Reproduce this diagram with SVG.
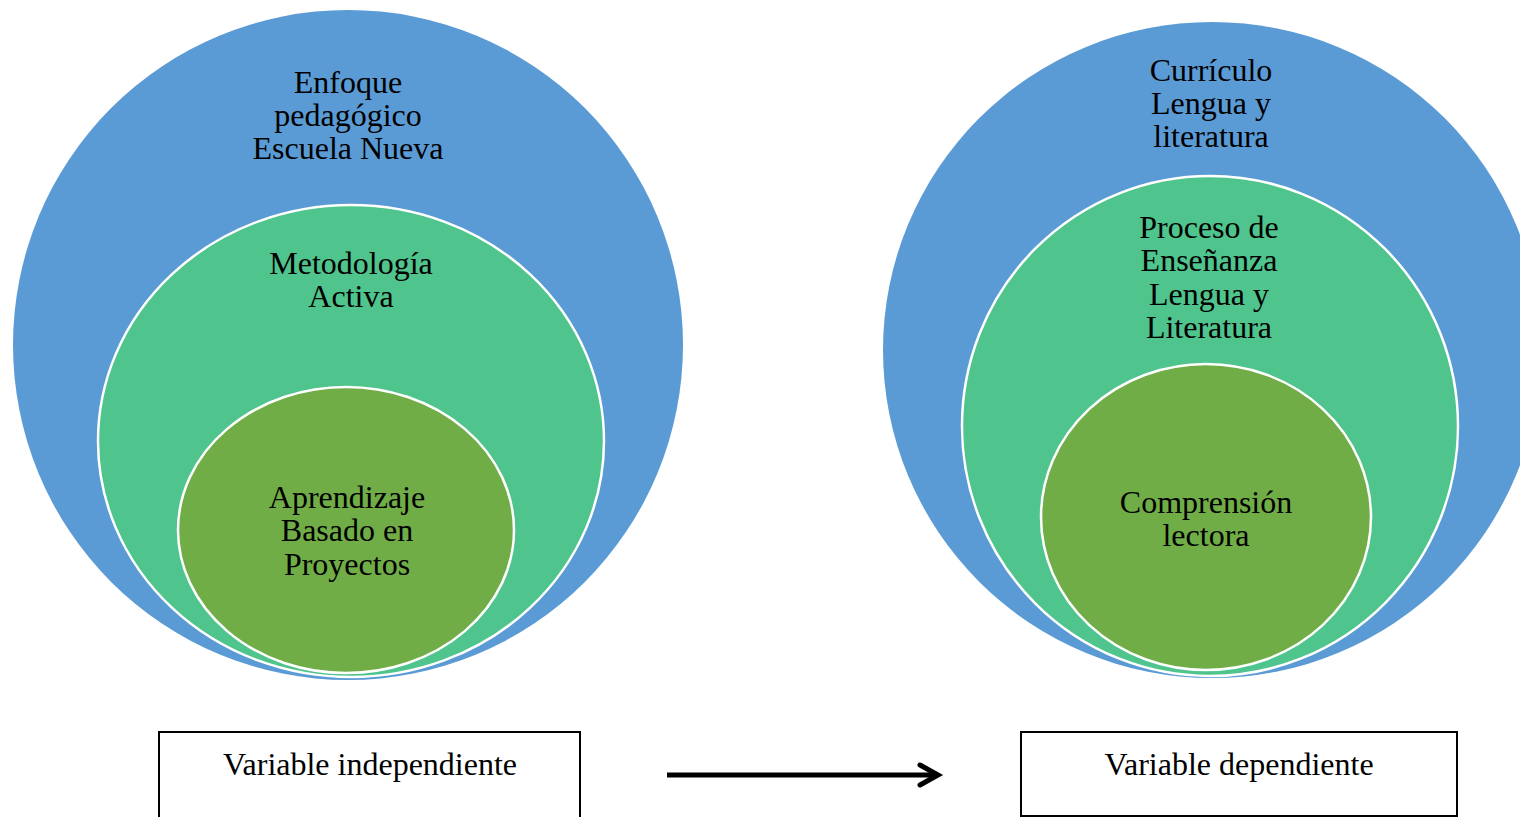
<svg xmlns="http://www.w3.org/2000/svg" width="1520" height="817" viewBox="0 0 1520 817">
<style>
.outer{fill:#5B9BD5;}
.mid{fill:#4FC48D;stroke:#FFFFFF;stroke-width:2.5;}
.inner{fill:#70AD47;stroke:#FFFFFF;stroke-width:2.5;}
.t{font-family:"Liberation Serif","Times New Roman",serif;font-size:32px;fill:#000;text-anchor:middle;}
.bt{font-family:"Liberation Serif","Times New Roman",serif;font-size:32px;fill:#000;text-anchor:middle;}
.box{fill:#FFFFFF;stroke:#000;stroke-width:2;}
</style>
<rect width="1520" height="817" fill="#FFFFFF"/>
<g id="left-outer">
<ellipse class="outer" cx="348" cy="345" rx="335" ry="335"/>
<text class="t"><tspan x="348" y="93">Enfoque</tspan><tspan x="348" y="126">pedagógico</tspan><tspan x="348" y="159">Escuela Nueva</tspan></text>
</g>
<g id="left-mid">
<ellipse class="mid" cx="351" cy="441" rx="253" ry="236"/>
<text class="t"><tspan x="351" y="274">Metodología</tspan><tspan x="351" y="307">Activa</tspan></text>
</g>
<g id="left-inner">
<ellipse class="inner" cx="346" cy="530" rx="168" ry="143"/>
<text class="t"><tspan x="347" y="508">Aprendizaje</tspan><tspan x="347" y="541">Basado en</tspan><tspan x="347" y="575">Proyectos</tspan></text>
</g>
<g id="right-outer">
<ellipse class="outer" cx="1212" cy="350" rx="329" ry="328"/>
<text class="t"><tspan x="1211" y="81">Currículo</tspan><tspan x="1211" y="114">Lengua y</tspan><tspan x="1211" y="147">literatura</tspan></text>
</g>
<g id="right-mid">
<ellipse class="mid" cx="1210" cy="426" rx="248" ry="250"/>
<text class="t"><tspan x="1209" y="238">Proceso de</tspan><tspan x="1209" y="271">Enseñanza</tspan><tspan x="1209" y="305">Lengua y</tspan><tspan x="1209" y="338">Literatura</tspan></text>
</g>
<g id="right-inner">
<ellipse class="inner" cx="1206" cy="517" rx="165" ry="153"/>
<text class="t"><tspan x="1206" y="513">Comprensión</tspan><tspan x="1206" y="546">lectora</tspan></text>
</g>
<g id="box-independiente">
<rect class="box" x="159" y="732" width="421" height="100"/>
<text class="bt" x="370" y="775">Variable independiente</text>
</g>
<g id="box-dependiente">
<rect class="box" x="1021" y="732" width="436" height="84"/>
<text class="bt" x="1239" y="775">Variable dependiente</text>
</g>
<g id="connectors">
<line x1="667" y1="775" x2="936" y2="775" stroke="#000" stroke-width="5"/>
<polyline points="920,765 938,775 920,785" fill="none" stroke="#000" stroke-width="5" stroke-linecap="round" stroke-linejoin="miter"/>
</g>
</svg>
